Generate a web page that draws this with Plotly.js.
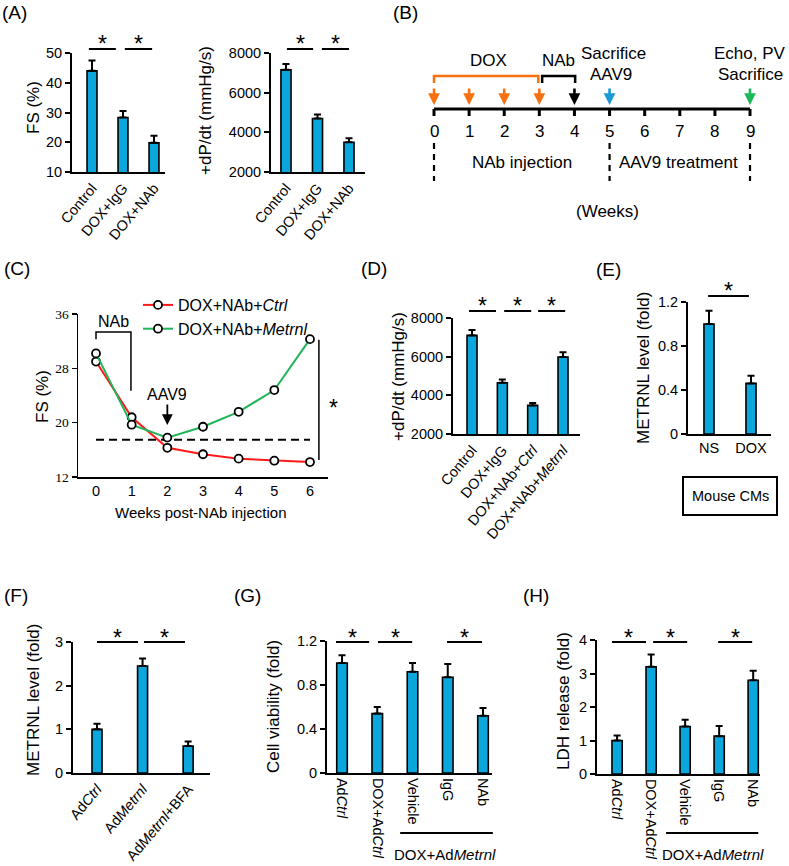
<!DOCTYPE html>
<html><head><meta charset="utf-8">
<script src="https://cdn.plot.ly/plotly-3.0.1.min.js"></script>
<style>body{margin:0;background:#fff}#chart{width:789px;height:866px}</style>
</head><body><div id="chart"></div>
<script>
// ---------------- DATA ----------------
const catsA = ['Control', 'DOX+IgG', 'DOX+NAb'];
const fsA = [44.0, 28.3, 19.8];
const fsAErr = [3.5, 2.2, 2.4];
const dpdtA = [7150, 4700, 3500];
const dpdtAErr = [300, 200, 200];

const weeksB = [0, 1, 2, 3, 4, 5, 6, 7, 8, 9];
const doxWeeksB = [0, 1, 2, 3];
const nabWeekB = 4;
const aavWeekB = 5;
const endWeekB = 9;
const dashWeeksB = [0, 5, 9];

const weeksC = [0, 1, 2, 3, 4, 5, 6];
const fsCtrlC = [29.0, 20.8, 16.3, 15.35, 14.7, 14.4, 14.2];
const fsMetrnlC = [30.2, 19.7, 17.8, 19.4, 21.6, 24.8, 32.3];
const thresholdC = 17.5;
const namesC = ['DOX+NAb+<i>Ctrl</i>', 'DOX+NAb+<i>Metrnl</i>'];

const catsD = ['Control', 'DOX+IgG', 'DOX+NAb+<i>Ctrl</i>', 'DOX+NAb+<i>Metrnl</i>'];
const dpdtD = [7100, 4650, 3480, 5980];
const dpdtDErr = [280, 170, 120, 250];

const catsE = ['NS', 'DOX'];
const metrnlE = [1.0, 0.46];
const metrnlEErr = [0.12, 0.07];

const catsF = ['Ad<i>Ctrl</i>', 'Ad<i>Metrnl</i>', 'Ad<i>Metrnl</i>+BFA'];
const metrnlF = [1.0, 2.45, 0.62];
const metrnlFErr = [0.13, 0.17, 0.10];

const catsGH = ['Ad<i>Ctrl</i>', 'DOX+Ad<i>Ctrl</i>', 'Vehicle', 'IgG', 'NAb'];
const viabG = [1.0, 0.54, 0.92, 0.87, 0.52];
const viabGErr = [0.07, 0.06, 0.08, 0.12, 0.07];
const ldhH = [1.0, 3.2, 1.42, 1.13, 2.8];
const ldhHErr = [0.15, 0.37, 0.20, 0.30, 0.28];

// ---------------- LAYOUT HELPERS ----------------
const W = 789, H = 866;
const F = 'Liberation Sans, Arial, sans-serif';
const SERIF = 'Liberation Serif, Times New Roman, serif';
const BAR = '#0aa6dc';
const px = x => x / W;
const py = y => 1 - y / H;
const idx = a => a.map((_, i) => i);
const zeros = a => a.map(() => 0);

const layout = {
  width: W, height: H, margin: {l: 0, r: 0, t: 0, b: 0},
  paper_bgcolor: '#fff', plot_bgcolor: 'rgba(0,0,0,0)',
  showlegend: true,
  legend: {x: px(138), y: py(288), xanchor: 'left', yanchor: 'top', bgcolor: 'rgba(0,0,0,0)',
           font: {family: F, size: 16, color: '#000'}, tracegroupgap: 0, itemwidth: 30},
  font: {family: F, color: '#000'},
  shapes: [], annotations: []
};
const data = [];
const shapes = layout.shapes, ann = layout.annotations;

function xpx(p, v) { return p.box[0] + (v - p.xr[0]) / (p.xr[1] - p.xr[0]) * (p.box[1] - p.box[0]); }
function ypx(p, v) { return p.box[3] - (v - p.yr[0]) / (p.yr[1] - p.yr[0]) * (p.box[3] - p.box[2]); }

function axes(n, p, xo, yo) {
  const s = n === 1 ? '' : n;
  layout['xaxis' + s] = Object.assign({
    domain: [px(p.box[0]), px(p.box[1])], range: p.xr, anchor: 'y' + s,
    showline: true, linecolor: '#000', linewidth: 2, ticks: '', showgrid: false, zeroline: false,
    fixedrange: true, tickfont: {family: F, size: 14.5, color: '#000'}
  }, xo || {});
  layout['yaxis' + s] = Object.assign({
    domain: [py(p.box[3]), py(p.box[2])], range: p.yr, anchor: 'x' + s,
    showline: true, linecolor: '#000', linewidth: 2, ticks: 'outside', ticklen: 5, tickwidth: 2,
    tickcolor: '#000', showgrid: false, zeroline: false, fixedrange: true,
    tickfont: {family: F, size: 14.5, color: '#000'}
  }, yo || {});
}

function bars(n, cats, vals, errs, w) {
  const s = n === 1 ? '' : n;
  data.push({
    type: 'bar', x: idx(cats), y: vals, width: w, xaxis: 'x' + s, yaxis: 'y' + s, showlegend: false,
    marker: {color: BAR, line: {color: '#000', width: 1.6}},
    error_y: {type: 'data', symmetric: false, array: errs, arrayminus: zeros(errs), color: '#000', thickness: 2, width: 3.5},
    hoverinfo: 'skip'
  });
}

function sig(p, a, b, lineY, starY) {
  const x0 = xpx(p, a), x1 = xpx(p, b);
  shapes.push({type: 'line', xref: 'paper', yref: 'paper', x0: px(x0), x1: px(x1), y0: py(lineY), y1: py(lineY),
               line: {color: '#000', width: 2}});
  text((x0 + x1) / 2, starY + 6, '*', 23);
}

function text(x, y, t, size, opts) {
  ann.push(Object.assign({xref: 'paper', yref: 'paper', x: px(x), y: py(y), text: t, showarrow: false,
    font: {family: F, size: size, color: '#000'}, xanchor: 'center', yanchor: 'middle'}, opts || {}));
}
function vtitle(x, y, t, size) { text(x, y, t, size || 17, {textangle: -90}); }
function plabel(x, y, t) { text(x, y, t, 19, {xanchor: 'left'}); }

// ---------------- PANEL A ----------------
const pA1 = {box: [72, 165, 53, 172], xr: [-0.645, 2.355], yr: [10, 50]};
axes(1, pA1, {tickvals: idx(catsA), ticktext: catsA, tickangle: -50},
     {tickvals: [10, 20, 30, 40, 50]});
bars(1, catsA, fsA, fsAErr, 0.32);
vtitle(33, 108, 'FS (%)');
sig(pA1, -0.1, 0.77, 49, 38);
sig(pA1, 1.06, 1.94, 49, 38);

const pA2 = {box: [271, 365, 53, 172], xr: [-0.476, 2.508], yr: [2000, 8000]};
axes(2, pA2, {tickvals: idx(catsA), ticktext: catsA, tickangle: -50},
     {tickvals: [2000, 4000, 6000, 8000]});
bars(2, catsA, dpdtA, dpdtAErr, 0.32);
vtitle(205, 111, '+dP/dt (mmHg/s)');
sig(pA2, 0.03, 0.86, 49, 38);
sig(pA2, 1.14, 2.0, 49, 38);
plabel(0, 12, '(A)');

// ---------------- PANEL B (timeline) ----------------
const pB = {box: [390, 789, 0, 230], xr: [-1.253, 10.11], yr: [230, 0]};
layout.xaxis3 = {domain: [px(390), px(789)], range: pB.xr, visible: false, anchor: 'y3', fixedrange: true};
layout.yaxis3 = {domain: [py(230), py(0)], range: pB.yr, visible: false, anchor: 'x3', fixedrange: true};
function bshape(o) { shapes.push(Object.assign({xref: 'x3', yref: 'y3'}, o)); }
function btext(x, y, t, o) {
  ann.push(Object.assign({xref: 'x3', yref: 'y3', x: x, y: y, text: t, showarrow: false,
    font: {family: F, size: 17, color: '#000'}, xanchor: 'center', yanchor: 'middle'}, o || {}));
}
function barrow(x, col) {
  ann.push({xref: 'x3', yref: 'y3', x: x, y: 105, ax: 0, ay: -18, text: '', showarrow: true,
    arrowhead: 2, arrowsize: 0.9, arrowwidth: 2.6, arrowcolor: col, standoff: 0});
}
bshape({type: 'line', x0: weeksB[0], x1: weeksB[weeksB.length - 1], y0: 109, y1: 109, line: {color: '#000', width: 3}});
weeksB.forEach(w => {
  bshape({type: 'line', x0: w, x1: w, y0: 109, y1: 116, line: {color: '#000', width: 3}});
  btext(w, 131, String(w));
});
dashWeeksB.forEach(w => bshape({type: 'line', x0: w, x1: w, y0: 143, y1: 181, line: {color: '#000', width: 2.2, dash: '6px,5px'}}));
const ORANGE = '#f7700f', BLUE = '#1b98d6', GREEN = '#1cb85a';
doxWeeksB.forEach(w => barrow(w, ORANGE));
barrow(nabWeekB, '#000');
barrow(aavWeekB, BLUE);
barrow(endWeekB, GREEN);
bshape({type: 'path', path: `M ${doxWeeksB[0]} 83 L ${doxWeeksB[0]} 76 L ${doxWeeksB[3] - 0.03} 76 L ${doxWeeksB[3] - 0.03} 83`,
        line: {color: ORANGE, width: 2.5}});
bshape({type: 'path', path: `M 3.08 83 L 3.08 76 L ${nabWeekB + 0.02} 76 L ${nabWeekB + 0.02} 83`,
        line: {color: '#000', width: 2.5}});
btext(1.55, 60, 'DOX');
btext(3.54, 60, 'NAb');
btext(5.1, 53, 'Sacrifice');
btext(5.05, 74, 'AAV9');
btext(9.0, 53, 'Echo, PV');
btext(9.0, 74, 'Sacrifice');
btext(2.52, 162, 'NAb injection');
btext(6.95, 162, 'AAV9 treatment');
btext(4.93, 211, '(Weeks)');
plabel(391, 12, '(B)');

// ---------------- PANEL C (line chart) ----------------
const pC = {box: [78, 328, 314, 477], xr: [-0.505, 6.505], yr: [12, 36]};
axes(4, pC, {tickvals: weeksC, ticktext: weeksC.map(String), tickfont: {family: F, size: 14.5, color: '#000'}},
     {tickvals: [12, 20, 28, 36], tickfont: {family: SERIF, size: 13.5, color: '#000'}, linewidth: 1.5, tickwidth: 1.5});
layout.xaxis4.linewidth = 1.5;
const mk = {symbol: 'circle', size: 8, color: '#fff', line: {color: '#000', width: 1.8}};
data.push({type: 'scatter', mode: 'lines+markers', x: weeksC, y: fsCtrlC, name: namesC[0], xaxis: 'x4', yaxis: 'y4',
           line: {color: '#ff1a1a', width: 2}, marker: mk, cliponaxis: false, hoverinfo: 'skip'});
data.push({type: 'scatter', mode: 'lines+markers', x: weeksC, y: fsMetrnlC, name: namesC[1], xaxis: 'x4', yaxis: 'y4',
           line: {color: '#20b55a', width: 2}, marker: mk, cliponaxis: false, hoverinfo: 'skip'});
shapes.push({type: 'line', xref: 'x4', yref: 'y4', x0: weeksC[0], x1: weeksC[6], y0: thresholdC, y1: thresholdC,
             line: {color: '#000', width: 2, dash: '8px,5px'}, layer: 'below'});
shapes.push({type: 'line', xref: 'x4', yref: 'y4', x0: 6.25, x1: 6.25, y0: 14.5, y1: 32.2, line: {color: '#000', width: 1.5}});
shapes.push({type: 'path', xref: 'x4', yref: 'y4', path: 'M 0 32.3 L 0 33.35 L 0.98 33.35 L 0.98 24.7', line: {color: '#000', width: 1.5}});
ann.push({xref: 'x4', yref: 'y4', x: 0.5, y: 34.9, text: 'NAb', showarrow: false, font: {family: F, size: 16, color: '#000'}});
ann.push({xref: 'x4', yref: 'y4', x: 2, y: 19.65, ax: 0, ay: -22, text: '', showarrow: true, arrowhead: 2,
          arrowsize: 1.2, arrowwidth: 1.8, arrowcolor: '#000', standoff: 0});
ann.push({xref: 'x4', yref: 'y4', x: 2, y: 24.2, text: 'AAV9', showarrow: false, font: {family: F, size: 16, color: '#000'}});
text(333, 408, '*', 23);
vtitle(43, 397, 'FS (%)');
text(200, 512, 'Weeks post-NAb injection', 15);
plabel(2, 268, '(C)');

// ---------------- PANEL D ----------------
const pD = {box: [453, 580, 318, 434], xr: [-0.627, 3.56], yr: [2000, 8000]};
axes(5, pD, {tickvals: idx(catsD), ticktext: catsD, tickangle: -50},
     {tickvals: [2000, 4000, 6000, 8000]});
bars(5, catsD, dpdtD, dpdtDErr, 0.33);
vtitle(398, 376, '+dP/dt (mmHg/s)');
sig(pD, -0.1, 0.79, 311, 300);
sig(pD, 1.06, 1.95, 311, 300);
sig(pD, 2.18, 3.07, 311, 300);
plabel(359, 268, '(D)');

// ---------------- PANEL E ----------------
const pE = {box: [688, 771, 302, 434], xr: [-0.5, 1.476], yr: [0, 1.2]};
axes(6, pE, {tickvals: idx(catsE), ticktext: catsE},
     {tickvals: [0, 0.4, 0.8, 1.2], ticktext: ['0', '0.4', '0.8', '1.2']});
bars(6, catsE, metrnlE, metrnlEErr, 0.24);
vtitle(643, 368, 'METRNL level (fold)');
sig(pE, -0.02, 0.95, 296, 285);
shapes.push({type: 'rect', xref: 'paper', yref: 'paper', x0: px(683), x1: px(777), y0: py(515), y1: py(477),
             line: {color: '#000', width: 2}});
text(730, 496, 'Mouse CMs', 14.5);
plabel(594, 269, '(E)');

// ---------------- PANEL F ----------------
const pF = {box: [73, 210, 642, 773], xr: [-0.527, 2.48], yr: [0, 3]};
axes(7, pF, {tickvals: idx(catsF), ticktext: catsF, tickangle: -50},
     {tickvals: [0, 1, 2, 3]});
bars(7, catsF, metrnlF, metrnlFErr, 0.22);
vtitle(33, 700, 'METRNL level (fold)');
sig(pF, 0.0, 0.9, 642, 632);
sig(pF, 1.03, 1.93, 642, 632);
plabel(2, 595, '(F)');

// ---------------- PANEL G ----------------
const pG = {box: [327, 492, 641, 773], xr: [-0.426, 4.255], yr: [0, 1.2]};
axes(8, pG, {tickvals: idx(catsGH), ticktext: catsGH, tickangle: 90},
     {tickvals: [0, 0.4, 0.8, 1.2], ticktext: ['0', '0.4', '0.8', '1.2']});
bars(8, catsGH, viabG, viabGErr, 0.3);
vtitle(273, 707, 'Cell viability (fold)');
sig(pG, -0.17, 0.77, 642, 632);
sig(pG, 1.02, 1.99, 642, 632);
sig(pG, 2.98, 3.97, 642, 632);
shapes.push({type: 'line', xref: 'paper', yref: 'paper', x0: px(xpx(pG, 1.65)), x1: px(xpx(pG, 4.28)), y0: py(833), y1: py(833),
             line: {color: '#000', width: 2}});
text(xpx(pG, 2.92), 854, 'DOX+Ad<i>Metrnl</i>', 15);
plabel(232, 595, '(G)');

// ---------------- PANEL H ----------------
const pH = {box: [597, 760, 640, 774], xr: [-0.59, 4.2], yr: [0, 4]};
axes(9, pH, {tickvals: idx(catsGH), ticktext: catsGH, tickangle: 90},
     {tickvals: [0, 1, 2, 3, 4]});
bars(9, catsGH, ldhH, ldhHErr, 0.3);
vtitle(563, 701, 'LDH release (fold)');
sig(pH, -0.15, 0.85, 642, 632);
sig(pH, 1.06, 2.06, 642, 632);
sig(pH, 2.97, 3.97, 642, 632);
shapes.push({type: 'line', xref: 'paper', yref: 'paper', x0: px(xpx(pH, 1.44)), x1: px(xpx(pH, 4.15)), y0: py(833), y1: py(833),
             line: {color: '#000', width: 2}});
text(xpx(pH, 2.82), 854, 'DOX+Ad<i>Metrnl</i>', 15);
plabel(521, 595, '(H)');

Plotly.newPlot('chart', data, layout, {displayModeBar: false, staticPlot: true});
</script>
</body></html>
